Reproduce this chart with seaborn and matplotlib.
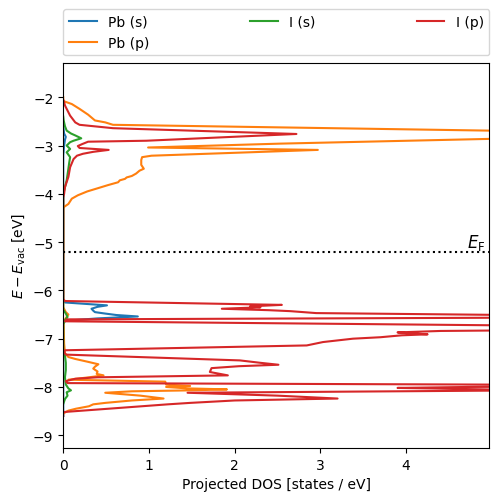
import numpy as np
import matplotlib
matplotlib.use("Agg")
import matplotlib.pyplot as plt
import seaborn as sns

# projected DOS (energy in eV vs vacuum, DOS in states/eV)
pb_s_energy = [-2.60, -2.75, -2.82, -2.88, -3.00, -3.20,
               -6.20, -6.25, -6.31, -6.34, -6.38, -6.42, -6.45, -6.48, -6.51, -6.54,
               -6.58, -6.63, -6.70, -8.60]
pb_s_dos = [0.0, 0.01, 0.03, 0.02, 0.01, 0.0,
            0.0, 0.02, 0.51, 0.40, 0.33, 0.35, 0.37, 0.49, 0.62, 0.87,
            0.40, 0.02, 0.0, 0.0]

pb_p_energy = [-2.00, -2.07, -2.09, -2.14, -2.24, -2.36, -2.48, -2.52, -2.57, -2.76,
               -2.96, -3.04, -3.09, -3.21, -3.24, -3.30, -3.40, -3.48, -3.52, -3.58,
               -3.63, -3.66, -3.69, -3.72, -3.76, -3.82, -3.88, -3.95, -4.03, -4.10,
               -4.21, -4.27, -4.30,
               -6.35, -6.45, -6.50, -6.55, -6.60, -6.70, -7.10, -7.30, -7.38, -7.42,
               -7.48, -7.53, -7.58, -7.62, -7.68, -7.73, -7.76, -7.80, -7.85, -7.89,
               -7.95, -7.98, -8.00, -8.03, -8.05, -8.07, -8.09, -8.12, -8.18, -8.24,
               -8.28, -8.33, -8.36, -8.40, -8.45, -8.49, -8.55]
pb_p_dos = [0.0, 0.0, 0.02, 0.10, 0.19, 0.29, 0.37, 0.49, 0.58, 7.5,
            2.53, 0.99, 2.97, 1.03, 0.92, 0.91, 0.91, 0.94, 0.89, 0.85,
            0.80, 0.74, 0.72, 0.66, 0.64, 0.52, 0.41, 0.28, 0.17, 0.10,
            0.06, 0.01, 0.0,
            0.0, 0.03, 0.06, 0.04, 0.02, 0.005, 0.01, 0.02, 0.06, 0.14,
            0.29, 0.41, 0.37, 0.35, 0.40, 0.39, 0.47, 0.30, 0.06, 1.19,
            1.20, 1.48, 1.20, 1.45, 1.91, 1.50, 0.80, 0.49, 0.90, 1.17,
            0.80, 0.49, 0.35, 0.30, 0.15, 0.06, 0.0]

i_s_energy = [-2.40, -2.48, -2.60, -2.69, -2.75, -2.79, -2.85, -2.90, -2.93, -3.00,
              -3.07, -3.14, -3.24, -3.35, -3.48, -3.60, -3.72, -3.90, -4.00,
              -6.40, -6.48, -6.55, -6.62, -6.70, -7.25, -7.35, -7.50, -7.65, -7.80,
              -7.95, -8.03, -8.07, -8.11, -8.18, -8.25, -8.35]
i_s_dos = [0.0, 0.005, 0.02, 0.04, 0.09, 0.14, 0.21, 0.12, 0.08, 0.04,
           0.08, 0.04, 0.08, 0.07, 0.06, 0.05, 0.04, 0.015, 0.0,
           0.0, 0.03, 0.05, 0.02, 0.0, 0.0, 0.02, 0.03, 0.03, 0.02,
           0.03, 0.06, 0.09, 0.04, 0.05, 0.02, 0.0]

i_p_energy = [-2.05, -2.10, -2.17, -2.24, -2.31, -2.38, -2.45, -2.52, -2.57, -2.64,
              -2.76, -2.90, -2.92, -2.97, -3.01, -3.05, -3.09, -3.13, -3.17, -3.21,
              -3.28, -3.45, -3.65, -3.86, -4.00, -4.08,
              -6.18, -6.22, -6.30, -6.33, -6.35, -6.38, -6.41, -6.43, -6.47, -6.55,
              -6.60, -6.64, -6.78, -6.84, -6.87, -6.89, -6.91, -6.93, -6.97, -7.00,
              -7.07, -7.14, -7.24, -7.28, -7.33, -7.45, -7.50, -7.54, -7.57, -7.61,
              -7.69, -7.76, -7.80, -7.83, -7.88, -7.92, -7.97, -8.00, -8.02, -8.04,
              -8.07, -8.12, -8.18, -8.24, -8.28, -8.33, -8.36, -8.52, -8.60]
i_p_dos = [0.0, 0.01, 0.02, 0.04, 0.06, 0.08, 0.11, 0.14, 0.19, 0.58,
           2.72, 0.97, 0.29, 0.22, 0.17, 0.19, 0.53, 0.35, 0.23, 0.16,
           0.12, 0.08, 0.06, 0.02, 0.01, 0.0,
           0.0, 0.02, 2.55, 2.18, 2.30, 1.85, 2.40, 2.65, 2.95, 7.5,
           0.04, 0.02, 8.5, 4.4, 3.90, 4.05, 4.25, 3.95, 3.70, 3.38,
           3.03, 2.84, 0.02, 0.01, 0.03, 2.06, 2.30, 2.51, 2.05, 1.73,
           1.71, 1.92, 0.40, 0.14, 0.03, 0.05, 8.0, 4.72, 3.90, 4.60,
           5.5, 1.45, 2.50, 3.20, 2.00, 1.48, 1.22, 0.0, 0.0]

labels = ["Pb (s)", "Pb (p)", "I (s)", "I (p)"]
energies = [pb_s_energy, pb_p_energy, i_s_energy, i_p_energy]
doses = [pb_s_dos, pb_p_dos, i_s_dos, i_p_dos]
fermi_level = -5.2

fig, ax = plt.subplots(figsize=(4.98, 5.02))
fig.subplots_adjust(left=0.127, right=0.9825, bottom=0.106, top=0.8725)

for i, (lab, e, d) in enumerate(zip(labels, energies, doses)):
    sns.lineplot(x=d, y=e, sort=False, estimator=None, orient="y",
                 color=f"C{i}", label=lab, ax=ax)

ax.axhline(fermi_level, color="k", ls=":")
ax.text(4.93, fermi_level, r"$E_\mathrm{F}$", ha="right", va="bottom", fontsize=12)

ax.set_xlim(0, 4.97)
ax.set_ylim(-9.26, -1.29)
ax.set_xlabel("Projected DOS [states / eV]")
ax.set_ylabel(r"$E - E_\mathrm{vac}$ [eV]")
ax.legend(bbox_to_anchor=(0, 1.02, 1, 0.102), loc="lower left", mode="expand",
          ncol=3, borderaxespad=0)

plt.savefig("out.png", dpi=100)
